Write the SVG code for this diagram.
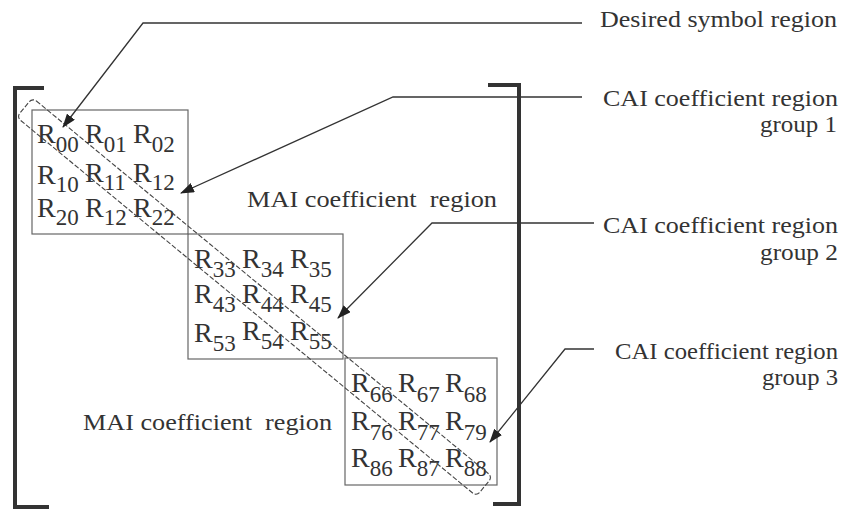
<svg xmlns="http://www.w3.org/2000/svg" width="854" height="512" viewBox="0 0 854 512">
<style>
.lbl{font-size:23px;fill:#333}
.r{font-size:28px;fill:#333}
.s{font-size:23px}
.box{fill:none;stroke:#666;stroke-width:1.2}
.brk{fill:none;stroke:#333;stroke-width:4}
.con{fill:none;stroke:#333;stroke-width:1.3}
.band{fill:none;stroke:#444;stroke-width:1.1;stroke-dasharray:5 2}
</style>
<defs>
<marker id="ah" markerWidth="14" markerHeight="10" refX="13" refY="5" orient="auto" markerUnits="userSpaceOnUse">
<path d="M0,0 L14,5 L0,10 Z" fill="#222"/>
</marker>
</defs>
<rect width="854" height="512" fill="#fff"/>

<g id="left-bracket"><path class="brk" d="M44,88 H15 V507 H49"/></g>
<g id="right-bracket"><path class="brk" d="M488,85 H519 V504 H493"/></g>

<g font-family="Liberation Serif, serif">
<g id="box1">
<rect class="box" x="32" y="110" width="156" height="124"/>
<text class="r" x="37" y="143">R<tspan class="s" dy="9">00</tspan></text>
<text class="r" x="85" y="143">R<tspan class="s" dy="9">01</tspan></text>
<text class="r" x="133" y="143">R<tspan class="s" dy="9">02</tspan></text>
<text class="r" x="37" y="184">R<tspan class="s" dy="8">10</tspan></text>
<text class="r" x="85" y="182">R<tspan class="s" dy="8">11</tspan></text>
<text class="r" x="133" y="182">R<tspan class="s" dy="8">12</tspan></text>
<text class="r" x="37" y="217">R<tspan class="s" dy="8">20</tspan></text>
<text class="r" x="85" y="217">R<tspan class="s" dy="8">12</tspan></text>
<text class="r" x="133" y="217">R<tspan class="s" dy="8">22</tspan></text>
</g>

<g id="box2">
<rect class="box" x="188" y="234" width="155" height="125"/>
<text class="r" x="194" y="268">R<tspan class="s" dy="9">33</tspan></text>
<text class="r" x="242" y="268">R<tspan class="s" dy="9">34</tspan></text>
<text class="r" x="290" y="268">R<tspan class="s" dy="9">35</tspan></text>
<text class="r" x="194" y="303">R<tspan class="s" dy="9">43</tspan></text>
<text class="r" x="242" y="303">R<tspan class="s" dy="9">44</tspan></text>
<text class="r" x="290" y="303">R<tspan class="s" dy="9">45</tspan></text>
<text class="r" x="194" y="342">R<tspan class="s" dy="9">53</tspan></text>
<text class="r" x="242" y="340">R<tspan class="s" dy="9">54</tspan></text>
<text class="r" x="290" y="340">R<tspan class="s" dy="9">55</tspan></text>
</g>

<g id="box3">
<rect class="box" x="345" y="358" width="152" height="127"/>
<text class="r" x="351" y="392">R<tspan class="s" dy="10">66</tspan></text>
<text class="r" x="398" y="392">R<tspan class="s" dy="10">67</tspan></text>
<text class="r" x="445" y="392">R<tspan class="s" dy="10">68</tspan></text>
<text class="r" x="351" y="430">R<tspan class="s" dy="10">76</tspan></text>
<text class="r" x="398" y="430">R<tspan class="s" dy="10">77</tspan></text>
<text class="r" x="445" y="430">R<tspan class="s" dy="10">79</tspan></text>
<text class="r" x="351" y="467">R<tspan class="s" dy="9">86</tspan></text>
<text class="r" x="398" y="467">R<tspan class="s" dy="9">87</tspan></text>
<text class="r" x="445" y="467">R<tspan class="s" dy="9">88</tspan></text>
</g>

<g id="mai-upper"><text class="lbl" x="247" y="207" textLength="250" lengthAdjust="spacingAndGlyphs" xml:space="preserve">MAI coefficient  region</text></g>
<g id="mai-lower"><text class="lbl" x="83" y="430" textLength="249" lengthAdjust="spacingAndGlyphs" xml:space="preserve">MAI coefficient  region</text></g>

<g id="label-desired"><text class="lbl" x="600" y="27" textLength="237" lengthAdjust="spacingAndGlyphs">Desired symbol region</text></g>
<g id="label-cai1">
<text class="lbl" x="603" y="106" textLength="235" lengthAdjust="spacingAndGlyphs">CAI coefficient region</text>
<text class="lbl" x="760" y="132" textLength="77" lengthAdjust="spacingAndGlyphs">group 1</text>
</g>
<g id="label-cai2">
<text class="lbl" x="603" y="233" textLength="235" lengthAdjust="spacingAndGlyphs">CAI coefficient region</text>
<text class="lbl" x="760" y="260" textLength="78" lengthAdjust="spacingAndGlyphs">group 2</text>
</g>
<g id="label-cai3">
<text class="lbl" x="615" y="359" textLength="223" lengthAdjust="spacingAndGlyphs">CAI coefficient region</text>
<text class="lbl" x="762" y="385" textLength="76" lengthAdjust="spacingAndGlyphs">group 3</text>
</g>
</g>

<g id="diagonal-band">
<rect class="band" x="-298" y="-12.5" width="596" height="25" rx="5" transform="translate(254.5,297) rotate(39.5)"/>
</g>

<g id="connectors">
<path class="con" d="M582,23 H143 L63,127" marker-end="url(#ah)"/>
<path class="con" d="M582,97 H393 L181,193" marker-end="url(#ah)"/>
<path class="con" d="M594,223 H432 L338,318" marker-end="url(#ah)"/>
<path class="con" d="M594,349 H565 L490,442" marker-end="url(#ah)"/>
</g>
</svg>
